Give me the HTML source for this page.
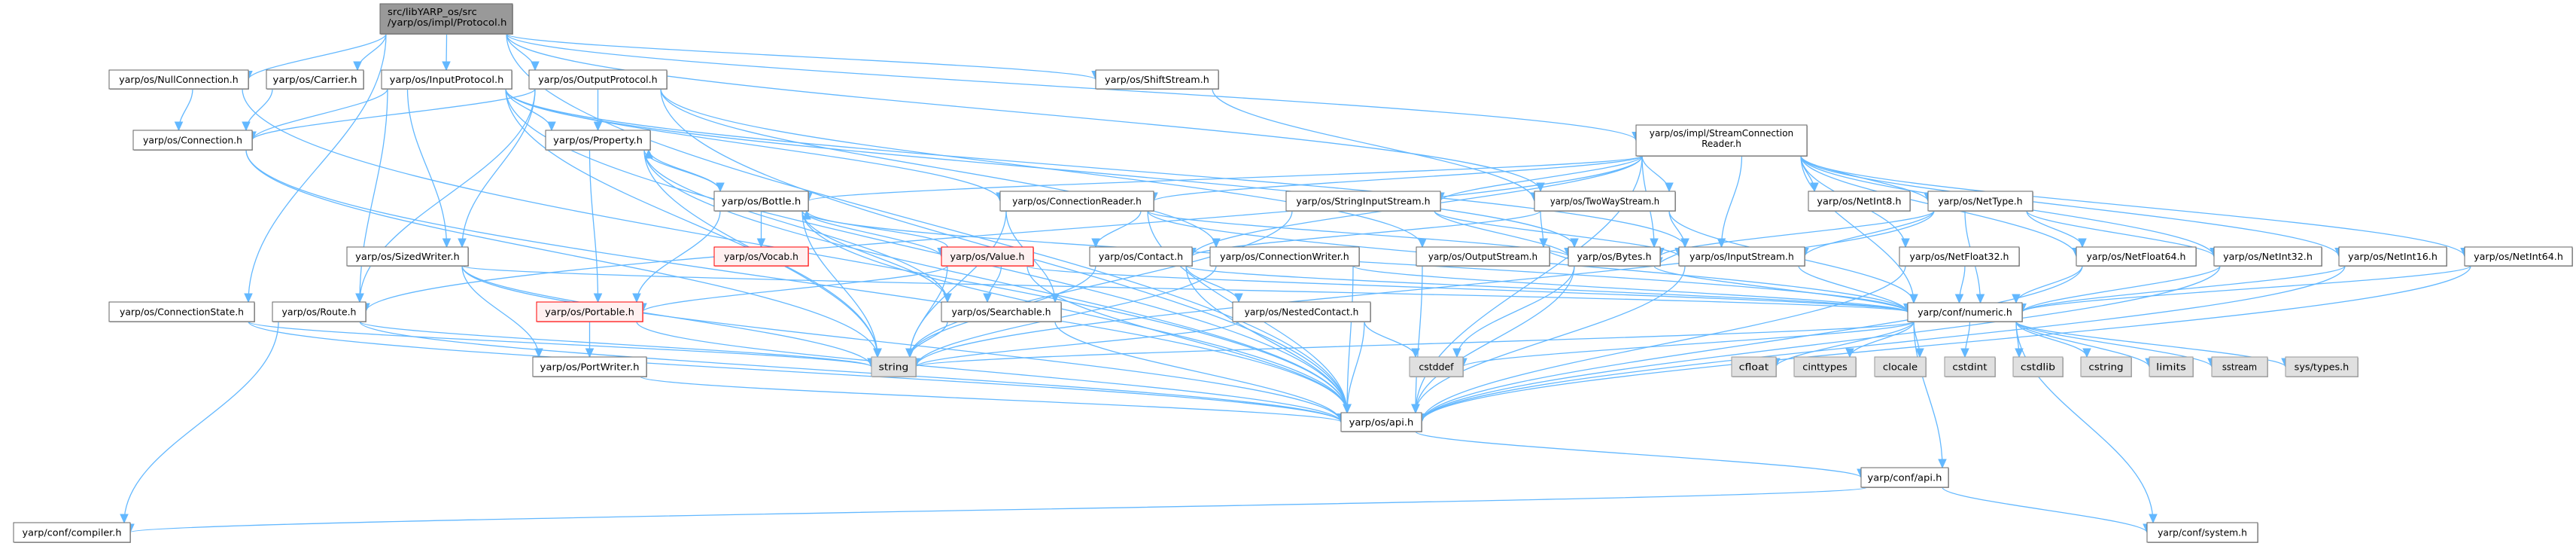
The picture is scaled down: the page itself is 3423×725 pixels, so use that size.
<!DOCTYPE html>
<html><head><meta charset="utf-8"><style>
html,body{margin:0;padding:0;background:#fff;width:3423px;height:725px;overflow:hidden}
svg{display:block}
text{font-family:"DejaVu Sans","Liberation Sans",sans-serif;font-size:12px;fill:#000}
</style></head><body>
<svg id="g" width="3423" height="725" viewBox="0 0 3423 725" xmlns="http://www.w3.org/2000/svg">
<g id="edges" fill="none" stroke="#63b8ff" stroke-width="1.3"></g>
<g id="arrows" fill="#63b8ff" stroke="#63b8ff"></g>
<g id="nodes"></g>
</svg>
<script>
var N={
P:[505,5,681,45,["src/libYARP_os/src","/yarp/os/impl/Protocol.h"],"top"],
NC:[145,93,330,118,["yarp/os/NullConnection.h"]],
CA:[354,93,483,118,["yarp/os/Carrier.h"]],
IP:[507,93,680,118,["yarp/os/InputProtocol.h"]],
OP:[703,93,886,118,["yarp/os/OutputProtocol.h"]],
SS:[1456,93,1619,118,["yarp/os/ShiftStream.h"]],
CO:[177,173,335,199,["yarp/os/Connection.h"]],
PR:[725,173,864,199,["yarp/os/Property.h"]],
SCR:[2174,166,2401,207,["yarp/os/impl/StreamConnection","Reader.h"]],
BO:[949,254,1074,280,["yarp/os/Bottle.h"]],
CR:[1329,254,1533,280,["yarp/os/ConnectionReader.h"]],
SIS:[1709,254,1914,280,["yarp/os/StringInputStream.h"]],
TW:[2039,254,2226,280,["yarp/os/TwoWayStream.h"]],
N8:[2403,254,2538,280,["yarp/os/NetInt8.h"]],
NT:[2562,254,2701,280,["yarp/os/NetType.h"]],
SW:[461,328,622,353,["yarp/os/SizedWriter.h"]],
VO:[949,328,1074,353,["yarp/os/Vocab.h"],"red"],
VA:[1251,328,1373,353,["yarp/os/Value.h"],"red"],
CT:[1448,328,1584,353,["yarp/os/Contact.h"]],
CW:[1608,328,1806,353,["yarp/os/ConnectionWriter.h"]],
OS:[1882,328,2059,353,["yarp/os/OutputStream.h"]],
BY:[2084,328,2206,353,["yarp/os/Bytes.h"]],
IS:[2231,328,2398,353,["yarp/os/InputStream.h"]],
F32:[2524,328,2683,353,["yarp/os/NetFloat32.h"]],
F64:[2759,328,2918,353,["yarp/os/NetFloat64.h"]],
I32:[2942,328,3085,353,["yarp/os/NetInt32.h"]],
I16:[3108,328,3251,353,["yarp/os/NetInt16.h"]],
I64:[3275,328,3418,353,["yarp/os/NetInt64.h"]],
CS:[145,401,338,427,["yarp/os/ConnectionState.h"]],
RO:[362,401,486,427,["yarp/os/Route.h"]],
PO:[713,401,854,427,["yarp/os/Portable.h"],"red"],
SE:[1251,401,1410,427,["yarp/os/Searchable.h"]],
NCT:[1638,401,1821,427,["yarp/os/NestedContact.h"]],
NU:[2535,402,2687,427,["yarp/conf/numeric.h"]],
PW:[708,474,859,500,["yarp/os/PortWriter.h"]],
ST:[1158,474,1217,500,["string"],"sys"],
CD:[1873,474,1944,500,["cstddef"],"sys"],
CF:[2301,474,2360,500,["cfloat"],"sys"],
CI:[2384,474,2466,500,["cinttypes"],"sys"],
CL:[2491,474,2559,500,["clocale"],"sys"],
CDI:[2584,474,2651,500,["cstdint"],"sys"],
CSL:[2675,474,2741,500,["cstdlib"],"sys"],
CSR:[2765,474,2832,500,["cstring"],"sys"],
LI:[2856,474,2914,500,["limits"],"sys"],
SST:[2939,474,3013,500,["sstream"],"sys"],
STY:[3037,474,3133,500,["sys/types.h"],"sys"],
API:[1782,548,1889,573,["yarp/os/api.h"]],
CAPI:[2473,621,2589,647,["yarp/conf/api.h"]],
CMP:[18,694,173,720,["yarp/conf/compiler.h"]],
SYS:[2853,694,3000,720,["yarp/conf/system.h"]]
};
var E={
P:["NC","CA","IP","OP","SS","SCR","CS","TW","API"],
NC:["CO","API"],CA:["CO"],
IP:["CO","PR","SW","RO","ST","CR","IS","BY","API"],
OP:["CO","PR","SW","RO","CW","OS","API"],
CO:["ST","API"],
PR:["BO","PO","SE","ST","API"],
BO:["PR","VO","VA","PO","SE","ST","API","NU"],
VA:["BO","PO","SE","ST","NU","API"],
SW:["PW","ST","API","NU"],
CR:["CT","SE","ST","NU","API","BY"],
CW:["NU","API","ST"],
CT:["NCT","ST","API","NU"],
NCT:["ST","API","CD"],
SE:["ST","API"],
PO:["PW","API"],PW:["API"],
RO:["ST","API","CMP"],CS:["ST","API"],
SS:["TW"],
SCR:["BO","CR","SIS","TW","BY","IS","N8","NT","F32","F64","I32","I16","I64","RO","CT","NU","API"],
SIS:["IS","BY","ST"],
TW:["CT","IS","OS","NU"],
OS:["API","BY"],
BY:["CD","API","NU"],
IS:["BY","NU","API"],
NT:["BY","IS","NU","F64","I32","ST"],
F32:["NU","API"],F64:["NU","API"],I32:["NU","API"],I16:["NU","API"],I64:["NU","API"],
NU:["CF","CI","CL","CDI","CSL","CSR","LI","SST","STY","CD","ST","CAPI","SYS"],
API:["CAPI"],CAPI:["CMP","SYS"]
};
var NS="http://www.w3.org/2000/svg";
function el(t,a,p){var e=document.createElementNS(NS,t);for(var k in a)e.setAttribute(k,a[k]);p.appendChild(e);return e;}
var ge=document.getElementById("edges"),ga=document.getElementById("arrows"),gn=document.getElementById("nodes");
function clamp(v,a,b){return Math.max(a,Math.min(b,v));}
for(var s in E){E[s].forEach(function(t,i){
 var a=N[s],b=N[t];
 var acx=(a[0]+a[2])/2,bcx=(b[0]+b[2])/2;
 var sx,sy,tx,ty,c1x,c1y,c2x,c2y;
 if(b[1]>a[3]-2){
  sx=clamp(bcx,a[0]+8,a[2]-8); sy=a[3];
  tx=clamp(acx,b[0]+8,b[2]-8); ty=b[1];
  var dy=ty-sy;
  if(Math.abs(tx-sx)>3*dy && dy<200){
   ty=(b[1]+b[3])/2; tx = (tx>sx)? b[0] : b[2];
  }
  c1x=sx;c1y=sy+dy*0.4;c2x=tx;c2y=ty-dy*0.4;
 } else {
  sx=clamp(bcx,a[0]+8,a[2]-8); sy=a[1];
  tx=clamp(acx,b[0]+8,b[2]-8)+6; ty=b[3];
  var dy=sy-ty;
  c1x=sx;c1y=sy-dy*0.4;c2x=tx;c2y=ty+dy*0.4;
 }
 el("path",{d:"M"+sx+","+sy+" C"+c1x+","+c1y+" "+c2x+","+c2y+" "+tx+","+ty},ge);
 var ang=Math.atan2(ty-c2y,tx-c2x);
 if(Math.abs(ty-c2y)<0.01&&Math.abs(tx-c2x)<0.01)ang=Math.atan2(ty-sy,tx-sx);
 var L=11,W=5,bx=tx-L*Math.cos(ang),by=ty-L*Math.sin(ang);
 var px=-Math.sin(ang)*W,py=Math.cos(ang)*W;
 el("polygon",{points:tx+","+ty+" "+(bx+px)+","+(by+py)+" "+(bx-px)+","+(by-py)},ga);
});}
for(var k in N){var n=N[k],ty=n[5];
 var fill="#fff",st="#666";
 if(ty=="sys"){fill="#e0e0e0";st="#999";}
 if(ty=="red"){fill="#fff0f0";st="#ff0000";}
 if(ty=="top"){fill="#999999";st="#666";}
 var w=n[2]-n[0],h=n[3]-n[1];
 el("rect",{x:n[0]+1,y:n[1]+1,width:w,height:h,fill:ty=="red"?"#f99":"#aaa"},gn);
 el("rect",{x:n[0],y:n[1],width:w,height:h,fill:fill,stroke:st,"stroke-width":1},gn);
 var lines=n[4];
 lines.forEach(function(l,i){
  var y=lines.length==1?(n[1]+h/2+4.5):(n[1]+15+i*14);
  var tw=l.length*6.6;
  var anchor=(ty=="top")?"start":"middle";
  var x=anchor=="start"?n[0]+10:n[0]+w/2;
  var t=el("text",{x:x,y:y,"text-anchor":anchor,textLength:Math.min(tw,w-12),lengthAdjust:"spacingAndGlyphs"},gn);
  t.textContent=l;
 });
}
</script>
</body></html>
